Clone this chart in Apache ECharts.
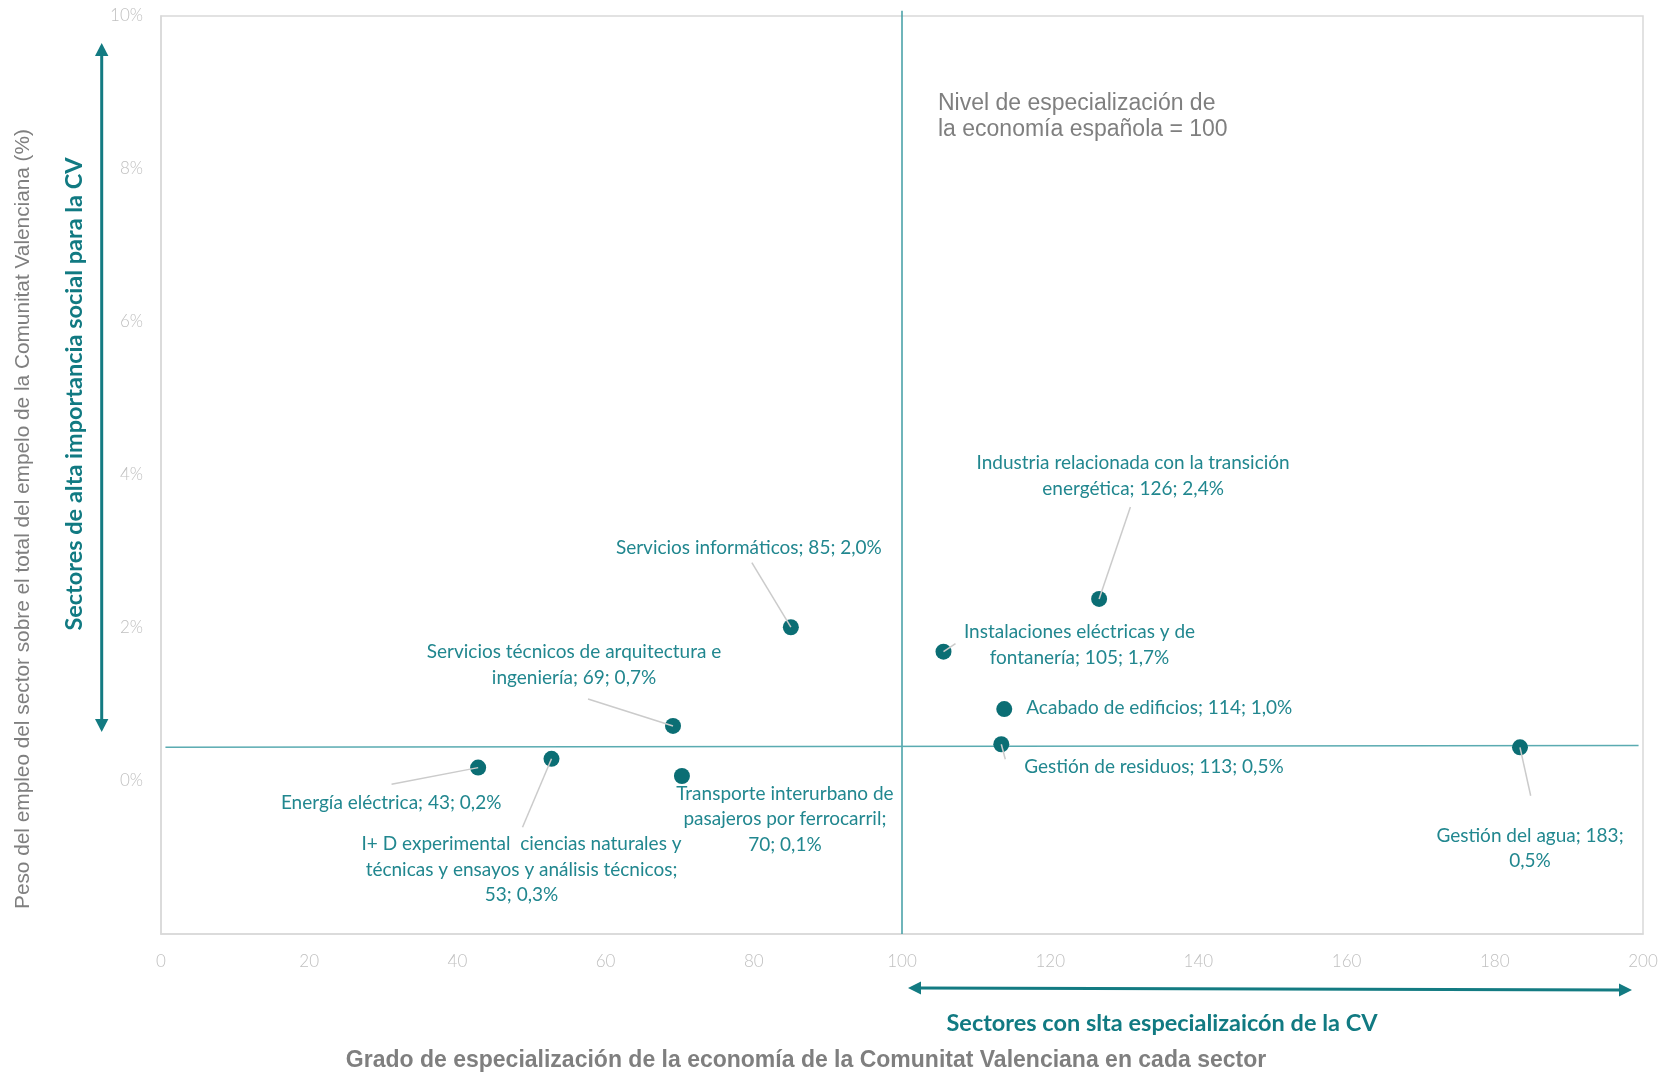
<!DOCTYPE html>
<html><head><meta charset="utf-8">
<script src="https://cdn.jsdelivr.net/npm/echarts@6/dist/echarts.min.js"></script>
<style>html,body{margin:0;padding:0;background:#fff}#c{width:1663px;height:1075px}</style>
</head><body><div id="c"></div>
<script>
// ---- data ----
const sectorLabels = [
  'Energía eléctrica; 43; 0,2%',
  'I+ D experimental  ciencias naturales y\ntécnicas y ensayos y análisis técnicos;\n53; 0,3%',
  'Servicios técnicos de arquitectura e\ningeniería; 69; 0,7%',
  'Transporte interurbano de\npasajeros por ferrocarril;\n70; 0,1%',
  'Servicios informáticos; 85; 2,0%',
  'Instalaciones eléctricas y de\nfontanería; 105; 1,7%',
  'Acabado de edificios; 114; 1,0%',
  'Gestión de residuos; 113; 0,5%',
  'Industria relacionada con la transición\nenergética; 126; 2,4%',
  'Gestión del agua; 183;\n0,5%'
];
const specialization = [42.8, 52.7, 69.1, 70.3, 85.0, 105.6, 113.8, 113.4, 126.6, 183.4];
const employmentWeight = [0.175, 0.29, 0.72, 0.065, 2.01, 1.69, 0.94, 0.48, 2.38, 0.44];
const spainLevel = 100;                       // vertical reference line (x)
const spainLevelSpan = [-2, 10.07];           // y extent of the vertical line
const avgWeightLine = [[0.6, 0.44], [199.4, 0.465]]; // horizontal reference line
const xTickInterval = 20;
const yTickInterval = 2;

// ---- label placement (style, pixels relative to the point) ----
const labelOffsets = [
  [-87, 35, 'center'],
  [-30, 111, 'center'],
  [-99, -61, 'center'],
  [103, 43, 'center'],
  [-42, -79, 'center'],
  [136, -7, 'center'],
  [22, -1, 'left'],
  [23, 23, 'left'],
  [34, -123, 'center'],
  [10, 101, 'center']
];
// leader line end, pixels relative to the point (null = no leader)
const leaderEnds = [
  [-86.6, 16.7],
  [-29, 68.4],
  [-85, -27],
  null,
  [-39, -64.6],
  [12, -8],
  null,
  [4, 15],
  [31.3, -92],
  [10.7, 48.4]
];

const teal = '#0b6e74';
const labelTeal = '#21878f';
const arrowTeal = '#137b82';
const gray = '#7f7f7f';

const chart = echarts.init(document.getElementById('c'), null, {renderer: 'canvas'});
const points = specialization.map((x, i) => ({value: [x, employmentWeight[i]], name: sectorLabels[i]}));

chart.setOption({
  animation: false,
  backgroundColor: '#fff',
  grid: {left: 161, right: 20, top: 16, bottom: 141, show: true, borderColor: '#d9d9d9', borderWidth: 1.5},
  xAxis: {
    type: 'value', min: 0, max: 200, interval: xTickInterval,
    axisLine: {show: true, onZero: false, lineStyle: {color: '#d9d9d9', width: 1.5}},
    axisTick: {show: false}, splitLine: {show: false},
    axisLabel: {color: '#c0c0c0', fontFamily: 'Lato', fontWeight: 300, fontSize: 17, margin: 19}
  },
  yAxis: {
    type: 'value', min: -2, max: 10, interval: yTickInterval,
    axisLine: {show: true, onZero: false, lineStyle: {color: '#d9d9d9', width: 1.5}},
    axisTick: {show: false}, splitLine: {show: false},
    axisLabel: {color: '#c0c0c0', fontFamily: 'Lato', fontWeight: 300, fontSize: 17, margin: 18,
      formatter: v => v < 0 ? '' : v + '%'}
  },
  series: [
    {
      type: 'line', data: spainLevelSpan.map(y => [spainLevel, y]), symbol: 'none', clip: false,
      lineStyle: {color: '#3f9ca3', width: 1.5}, silent: true, z: 1
    },
    {
      type: 'line', data: avgWeightLine, symbol: 'none',
      lineStyle: {color: '#5aabb1', width: 1.5}, silent: true, z: 1
    },
    {
      type: 'scatter', data: points, symbol: 'circle', symbolSize: 16,
      itemStyle: {color: teal, opacity: 1}, z: 3,
      label: {
        show: true, position: 'inside', formatter: p => p.name,
        color: labelTeal, fontFamily: 'Lato', fontSize: 19, lineHeight: 25.5, align: 'center'
      },
      labelLayout: p => {
        const o = labelOffsets[p.dataIndex];
        return {dx: o[0], dy: o[1], align: o[2]};
      }
    }
  ]
});

// leader lines computed from the data through the axes
const leaders = [];
specialization.forEach((x, i) => {
  const e = leaderEnds[i];
  if (!e) return;
  const p = chart.convertToPixel({gridIndex: 0}, [x, employmentWeight[i]]);
  leaders.push({type: 'line', z: 10, shape: {x1: p[0], y1: p[1], x2: p[0] + e[0], y2: p[1] + e[1]},
    style: {stroke: '#cbcbcb', lineWidth: 1.5}});
});

chart.setOption({
  graphic: leaders.concat([
    {type: 'text', left: 938, top: 90, style: {
      text: 'Nivel de especialización de\nla economía española = 100',
      fill: gray, font: '23px "Liberation Sans", Arial', lineHeight: 26.5}},
    {type: 'text', x: 23, y: 519, rotation: Math.PI / 2, style: {
      text: 'Peso del empleo del sector sobre el total del empelo de la Comunitat Valenciana (%)',
      fill: gray, font: '20.8px "Liberation Sans", Arial', align: 'center', verticalAlign: 'middle'}},
    {type: 'text', x: 74, y: 394, rotation: Math.PI / 2, style: {
      text: 'Sectores de alta importancia social para la CV',
      fill: '#117a82', font: 'bold 23.5px Lato', align: 'center', verticalAlign: 'middle'}},
    {type: 'text', x: 1162, y: 1023, style: {
      text: 'Sectores con slta especializaicón de la CV',
      fill: '#117a82', font: 'bold 23.5px Lato', align: 'center', verticalAlign: 'middle'}},
    {type: 'text', x: 806, y: 1061, style: {
      text: 'Grado de especialización de la economía de la Comunitat Valenciana en cada sector',
      fill: gray, font: 'bold 23px "Liberation Sans", Arial', align: 'center', verticalAlign: 'middle'}},
    {type: 'line', shape: {x1: 101.7, y1: 54, x2: 101.7, y2: 721}, style: {stroke: arrowTeal, lineWidth: 3}},
    {type: 'polygon', shape: {points: [[101.7, 43], [95, 56], [108.4, 56]]}, style: {fill: arrowTeal}},
    {type: 'polygon', shape: {points: [[101.7, 732], [95, 719], [108.4, 719]]}, style: {fill: arrowTeal}},
    {type: 'line', shape: {x1: 920, y1: 988, x2: 1620, y2: 990}, style: {stroke: arrowTeal, lineWidth: 3}},
    {type: 'polygon', shape: {points: [[908, 988], [921, 981.5], [921, 994.5]]}, style: {fill: arrowTeal}},
    {type: 'polygon', shape: {points: [[1632, 990], [1619, 983.5], [1619, 996.5]]}, style: {fill: arrowTeal}}
  ])
});
</script></body></html>
